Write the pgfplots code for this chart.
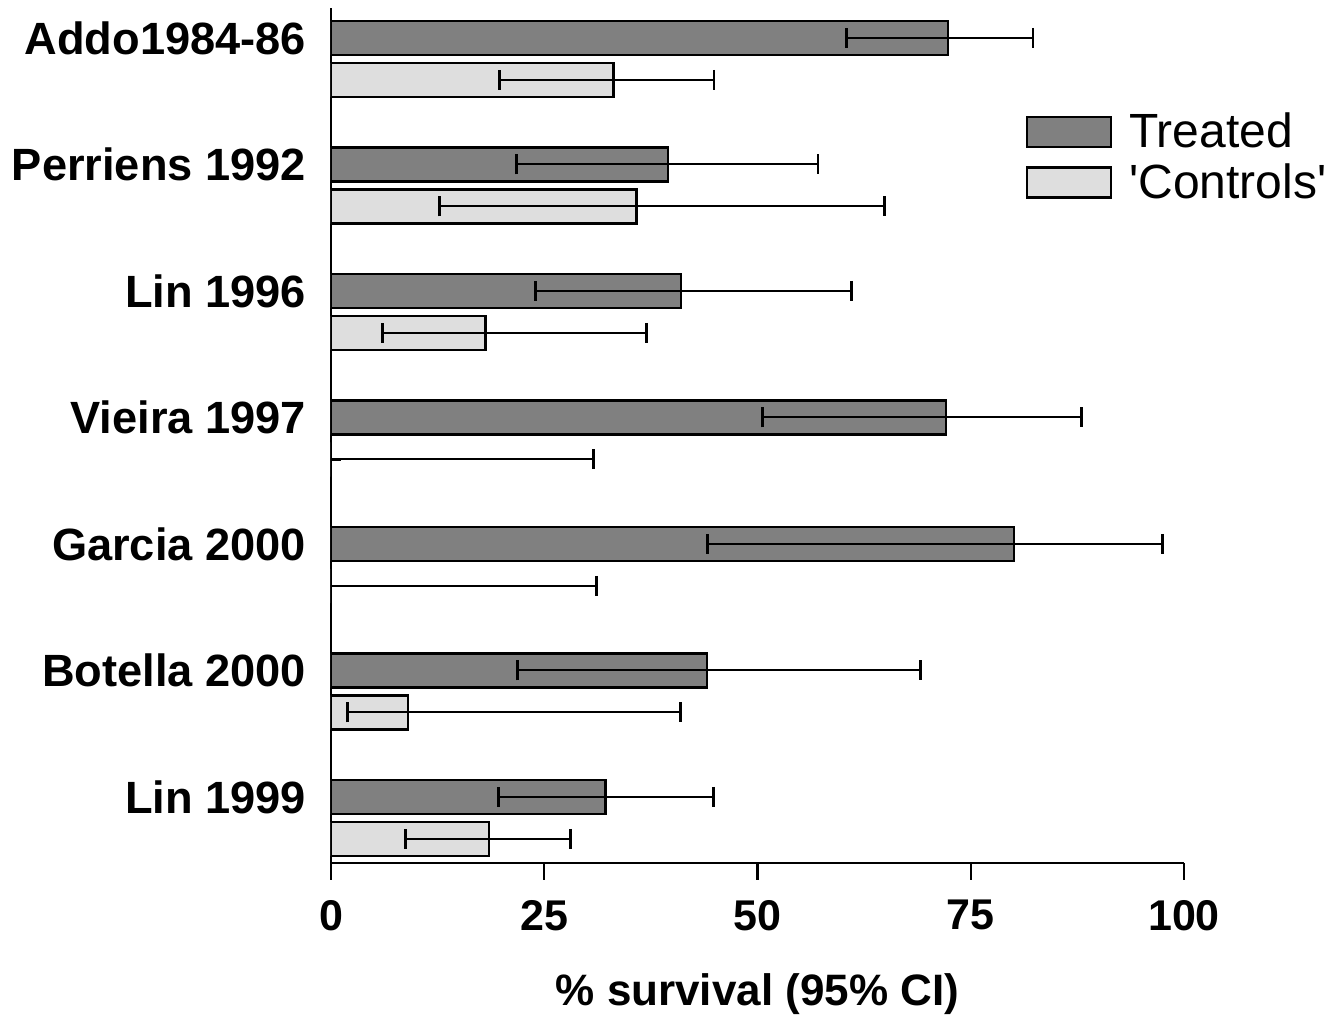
\documentclass[border=0pt]{standalone}
\usepackage{fontspec}
\setmainfont{Liberation Sans}
\usepackage{pgfplots}
\pgfplotsset{compat=1.18}
\definecolor{treated}{RGB}{128,128,128}
\definecolor{controls}{RGB}{222,222,222}
\begin{document}
\begin{tikzpicture}
\useasboundingbox (-165.5pt,-76pt) rectangle (505.5pt,431.5pt);
\begin{axis}[
  scale only axis,
  width=426.5pt, height=427.5pt,
  xmin=0, xmax=100,
  ymin=-0.522, ymax=6.237,
  axis x line*=bottom,
  axis y line*=left,
  axis line style={line width=1.2pt, -},
  xtick={0,25,50,75,100},
  tick align=outside,
  major tick length=8.5pt,
  xtick style={line width=1.2pt, black},
  ytick={0,1,2,3,4,5,6},
  yticklabels={Lin 1999, Botella 2000, Garcia 2000, Vieira 1997, Lin 1996, Perriens 1992, Addo1984-86},
  ytick style={draw=none},
  yticklabel style={font=\fontsize{22.6}{26}\selectfont\bfseries, xshift=-0.5pt},
  xticklabel style={font=\fontsize{21.5}{25}\selectfont\bfseries, yshift=-6.5pt},
  /pgf/number format/assume math mode=true,
  xlabel={\% survival (95\% CI)},
  xlabel style={font=\fontsize{22}{26}\selectfont\bfseries, yshift=-14.5pt},
  xbar, bar shift=0pt, bar width=0.27,
  legend image code/.code={\draw[#1, line width=1.2pt] (0pt,-7.5pt) rectangle (42pt,7.5pt);},
  legend cell align=left,
  legend style={font=\fontsize{24}{28}\selectfont, draw=none, fill=none,
    at={(rel axis cs:0.807,0.887)}, anchor=north west, row sep=2.5pt,
    nodes={inner xsep=8.5pt}},
  error bars/x dir=both,
  error bars/x explicit,
  error bars/error bar style={line width=1pt, black},
  error bars/error mark options={rotate=90, line width=1.4pt, mark size=5pt, black},
]
\addplot[fill=treated, draw=black, line width=1.2pt] coordinates {
  (72.3,6) += (10.0,0) -= (11.9,0)
  (39.5,5) += (17.6,0) -= (17.8,0)
  (41.0,4) += (20.0,0) -= (17.0,0)
  (72.1,3) += (15.9,0) -= (21.5,0)
  (80.1,2) += (17.4,0) -= (36.0,0)
  (44.1,1) += (25.0,0) -= (22.2,0)
  (32.2,0) += (12.6,0) -= (12.6,0)
};
\addlegendentry{Treated}
\addplot[fill=controls, draw=black, line width=1.2pt] coordinates {
  (33.1,5.668) += (11.8,0) -= (13.3,0)
  (35.8,4.668) += (29.1,0) -= (23.1,0)
  (18.1,3.668) += (18.9,0) -= (12.1,0)
  (0,2.668) += (30.8,0) -= (0,0)
  (0,1.668) += (31.1,0) -= (0,0)
  (9.0,0.668) += (32.0,0) -= (7.1,0)
  (18.5,-0.332) += (9.6,0) -= (9.8,0)
};
\addlegendentry{\textquotesingle Controls\textquotesingle}
\end{axis}
\end{tikzpicture}
\end{document}
